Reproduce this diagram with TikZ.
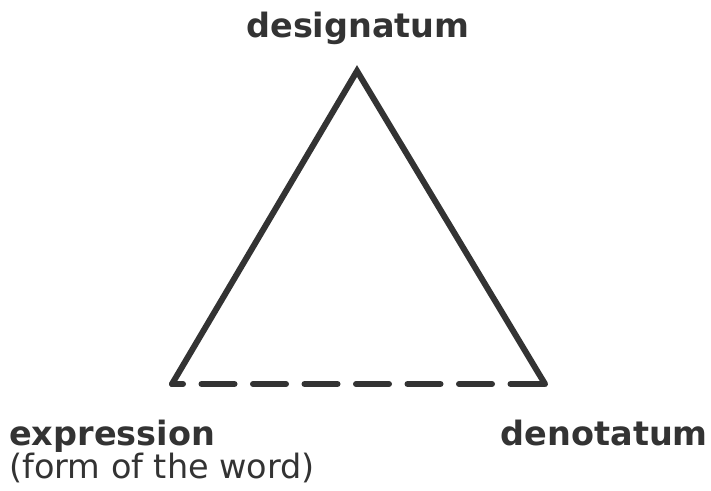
\documentclass[tikz,border=0pt]{standalone}
\usepackage{fontspec}
\setmainfont{DejaVu Sans}
\definecolor{ink}{HTML}{333333}
\begin{document}
\begin{tikzpicture}[x=1pt,y=-1pt,
  edge/.style={draw=ink,line width=6pt,line join=miter,line cap=round},
  dashedge/.style={draw=ink,line width=6pt,line cap=round,dash pattern=on 33pt off 18.5pt,dash phase=22pt},
  lbl/.style={inner sep=0pt,text=ink,font=\fontsize{33.5pt}{40pt}\selectfont\bfseries},
  sublbl/.style={inner sep=0pt,text=ink,font=\fontsize{33.5pt}{40pt}\selectfont}]
\useasboundingbox (0,0) rectangle (711,490);
\coordinate (top) at (357,71);
\coordinate (bl) at (172,384);
\coordinate (br) at (545,384);
\draw[edge] (bl) -- (top) -- (br);
\draw[dashedge] (bl) -- (br);
\node[lbl,anchor=base] (des) at (358,37) {designatum};
\node[lbl,anchor=base west] (expr) at (9,445) {expression};
\node[sublbl,anchor=base west] (form) at (9,478) {(form of the word)};
\node[lbl,anchor=base east] (den) at (708,445) {denotatum};
\end{tikzpicture}
\end{document}
